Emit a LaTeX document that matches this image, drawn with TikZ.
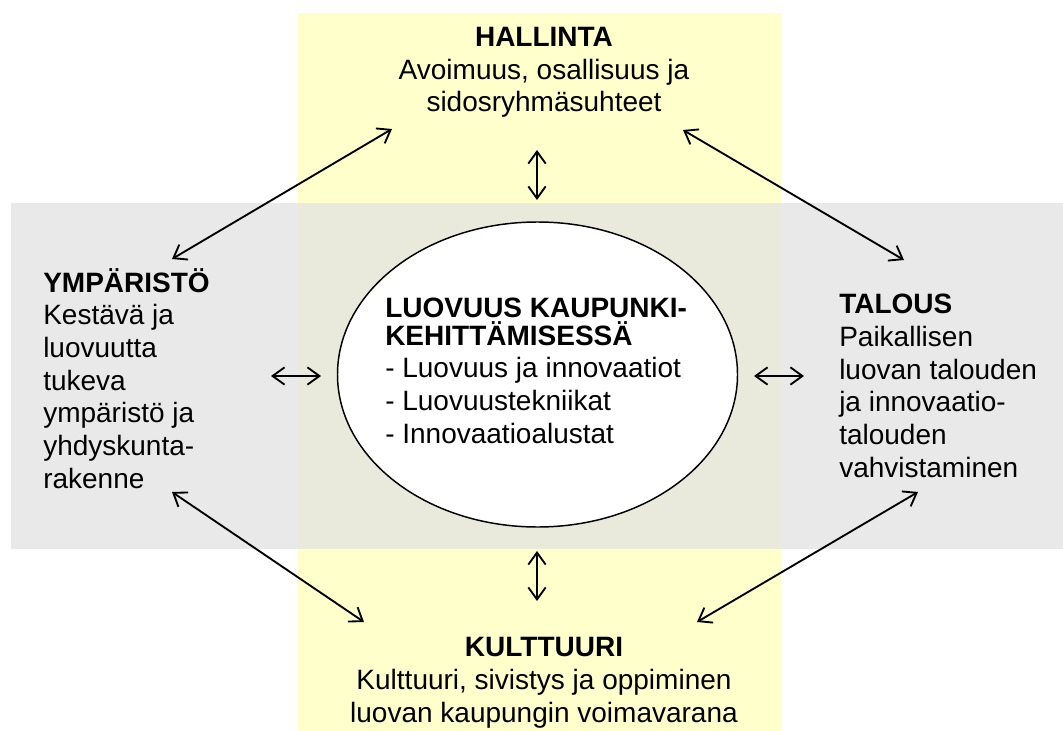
\documentclass[tikz,border=0pt]{standalone}
\usepackage{fontspec}
\setmainfont{Liberation Sans}
\usetikzlibrary{arrows.meta,shapes.geometric}
\definecolor{bandyellow}{RGB}{255,255,204}
\definecolor{greyedge}{RGB}{226,226,226}
\definecolor{greymid}{RGB}{240,240,240}
\begin{document}
\begin{tikzpicture}[x=0.75pt,y=-0.75pt,
  txt/.style={inner sep=0pt, font=\fontsize{21pt}{24.5pt}\selectfont},
  biarrow/.style={{Straight Barb[length=9pt,width=13pt]}-{Straight Barb[length=9pt,width=13pt]}, line width=1.4pt},
  hub/.style={ellipse, draw, line width=1.1pt, fill=white, inner sep=0pt, minimum width=300pt, minimum height=228.75pt}]
\useasboundingbox (0,0) rectangle (1063,731);
% bands
\fill[bandyellow] (298,13) rectangle (781,731);
\shade[left color=greyedge, middle color=greymid, right color=greyedge, fill opacity=0.75] (11,203) rectangle (1063,548);
% hub
\node[hub] (hub) at (537.5,374.5) {};
\node[txt, anchor=base west, align=left] (hubtxt) at (385,443)
  {\textbf{LUOVUUS KAUPUNKI-}\\[-3.75pt]\textbf{KEHITTÄMISESSÄ}\\- Luovuus ja innovaatiot\\- Luovuustekniikat\\- Innovaatioalustat};
% texts
\node[txt, anchor=base, align=center] (hal) at (544,112)
  {\textbf{HALLINTA}\\Avoimuus, osallisuus ja\\sidosryhmäsuhteet};
\node[txt, anchor=base, align=center] (kul) at (544,722)
  {\textbf{KULTTUURI}\\Kulttuuri, sivistys ja oppiminen\\luovan kaupungin voimavarana};
\node[txt, anchor=base west, align=left] (ymp) at (43,488)
  {\textbf{YMPÄRISTÖ}\\Kestävä ja\\luovuutta\\tukeva\\ympäristö ja\\yhdyskunta-\\rakenne};
\node[txt, anchor=base west, align=left] (tal) at (839,477)
  {\textbf{TALOUS}\\Paikallisen\\luovan talouden\\ja innovaatio-\\talouden\\vahvistaminen};
% arrow ends
\coordinate (tlA) at (172,259); \coordinate (tlB) at (392,129);
\coordinate (trA) at (683,130); \coordinate (trB) at (904,260);
\coordinate (blA) at (172,492); \coordinate (blB) at (364,622);
\coordinate (brA) at (697,622); \coordinate (brB) at (918,492);
\coordinate (vtA) at (537,150); \coordinate (vtB) at (537,200);
\coordinate (vbA) at (537,551); \coordinate (vbB) at (537,601);
\coordinate (hlA) at (271,376); \coordinate (hlB) at (321,376);
\coordinate (hrA) at (754,376); \coordinate (hrB) at (804,376);
\draw[biarrow] (tlA) -- (tlB);
\draw[biarrow] (trA) -- (trB);
\draw[biarrow] (blA) -- (blB);
\draw[biarrow] (brA) -- (brB);
\draw[biarrow] (vtA) -- (vtB);
\draw[biarrow] (vbA) -- (vbB);
\draw[biarrow] (hlA) -- (hlB);
\draw[biarrow] (hrA) -- (hrB);
\end{tikzpicture}
\end{document}
